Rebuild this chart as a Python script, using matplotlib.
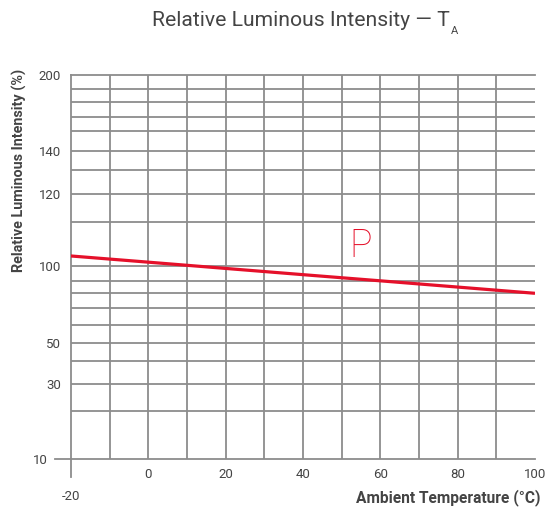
import numpy as np
import matplotlib
matplotlib.use("Agg")
import matplotlib.pyplot as plt
from matplotlib.lines import Line2D

# ---- data ----
temps = [-20, 0, 20, 40, 60, 80, 100]
intensity = [116.8, 105.8, 98.1, 93.9, 89.9, 84.8, 80.0]
ytick_vals = [10, 30, 50, 100, 300, 500, 1000]
ytick_labels = ["10", "30", "50", "100", "120", "140", "200"]
xtick_vals = [-20, 0, 20, 40, 60, 80, 100]
xtick_labels = ["-20", "0", "20", "40", "60", "80", "100"]
series_label = "P"

# gridline values of the (hand-drawn) log-like y scale and their vertical positions
grid_vals = np.array([10, 20, 30, 40, 50, 60, 70, 80, 90, 100,
                      200, 300, 400, 500, 600, 700, 800, 900, 1000], float)
grid_pix = np.array([459.3, 411, 384.3, 361.3, 342.7, 324.7, 307.7, 293.3, 280.7, 265.7,
                     222.3, 194, 170.3, 151, 131, 116.7, 102.3, 88.7, 74.7])
grid_pos = 459.3 - grid_pix
lg = np.log10(grid_vals)

def fwd(v):
    v = np.asarray(v, float)
    l = np.log10(np.clip(v, 1e-9, None))
    return np.interp(l, lg, grid_pos) + \
        np.where(l < lg[0], (l - lg[0]) * 193, 0) + np.where(l > lg[-1], (l - lg[-1]) * 193, 0)

def inv(p):
    p = np.asarray(p, float)
    return 10 ** np.interp(p, grid_pos, lg)

W, H = 547, 508
fig = plt.figure(figsize=(W / 100, H / 100), dpi=100)
L, R, T, B = 71, 535, 74.7, 459.3
ax = fig.add_axes([L / W, 1 - B / H, (R - L) / W, (B - T) / H])

grid_c = "#8c8c8c"
text_c = "#444444"
red = "#e5102a"
font = "Roboto"

ax.set_yscale("function", functions=(fwd, inv))
ax.set_ylim(10, 1000)
ax.set_xlim(-20, 100)

# gridlines
for v in grid_vals[1:-1]:
    ax.axhline(v, color=grid_c, lw=1.3, zorder=1)
for t in range(-10, 100, 10):
    ax.axvline(t, color=grid_c, lw=1.3, zorder=1)

ax.plot(temps, intensity, color=red, lw=2.3, zorder=3, solid_capstyle="butt")

ax.spines["right"].set_visible(False)
for s in ["left", "bottom", "top"]:
    ax.spines[s].set_color(grid_c)
    ax.spines[s].set_linewidth(1.3)

ax.set_yticks(ytick_vals)
ax.set_yticklabels(ytick_labels)
ax.yaxis.set_minor_locator(matplotlib.ticker.NullLocator())
ax.set_xticks(xtick_vals)
ax.set_xticklabels(xtick_labels)
ax.tick_params(axis="both", length=0, labelcolor=text_c, labelsize=9.5)
ax.tick_params(axis="y", pad=7)
ax.tick_params(axis="x", pad=6)
for lab in ax.get_xticklabels() + ax.get_yticklabels():
    lab.set_fontfamily(font)
ax.xaxis.get_major_ticks()[0].set_pad(22)
ax.yaxis.get_major_ticks()[0].set_pad(17)

# axis extension lines (at -20 / 10)
fig.add_artist(Line2D([55 / W, L / W], [1 - B / H, 1 - B / H], color=grid_c, lw=1.3))
fig.add_artist(Line2D([L / W, L / W], [1 - B / H, 1 - 477 / H], color=grid_c, lw=1.3))

# texts
fig.text(19 / W, 1 - 170 / H, "Relative Luminous Intensity (%)", rotation=90,
         ha="center", va="center", fontsize=10.4, fontweight="bold", color=text_c, family=font)
fig.text(541 / W, 1 - 498 / H, "Ambient Temperature (°C)", ha="right", va="center",
         fontsize=11.2, fontweight="bold", color=text_c, family=font)
title = fig.text(152 / W, 1 - 20 / H, "Relative Luminous Intensity — T", ha="left", va="center",
                 fontsize=15.2, color=text_c, family=font)
fig.canvas.draw()
bb = title.get_window_extent()
fig.text((bb.x1 + 1) / W, 1 - 31 / H, "A", ha="left", va="center", fontsize=8,
         color=text_c, family=font)
fig.text(361 / W, 1 - 246.5 / H, series_label, ha="center", va="center", fontsize=27,
         color=red, family=font, fontweight="light")

fig.savefig("out.png", dpi=100)
